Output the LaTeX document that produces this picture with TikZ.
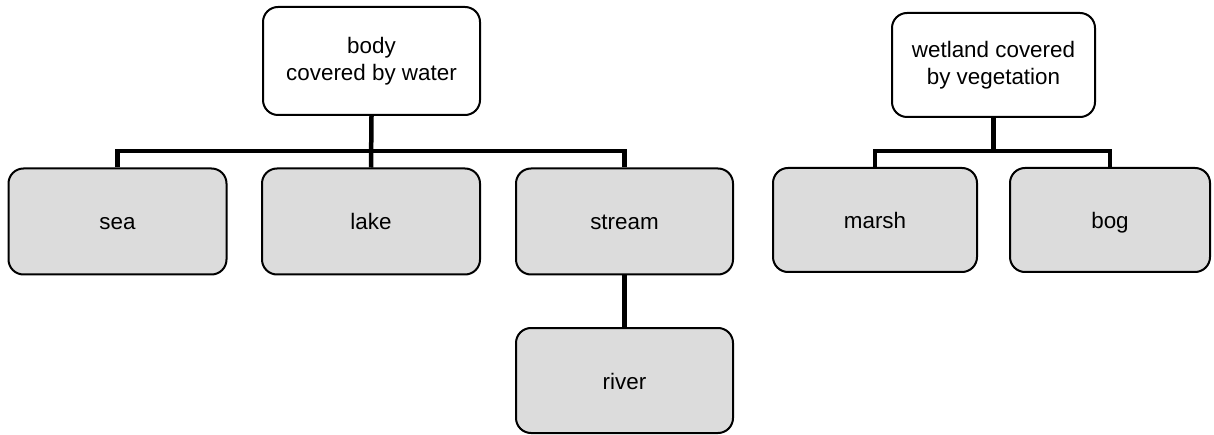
\documentclass[tikz,border=0pt]{standalone}
\usepackage{fontspec}
\setmainfont{Liberation Sans}
\begin{document}
\begin{tikzpicture}[x=1pt,y=-1pt,
  box/.style={draw=black, line width=2pt, rounded corners=15pt, align=center,
    inner sep=0pt, font=\fontsize{22.4}{27.5}\selectfont},
  topbox/.style={box, fill=white},
  leafbox/.style={box, fill=leafgray, text height=20pt, text depth=3pt},
  conn/.style={draw=black, line width=4.5pt}
]
\definecolor{leafgray}{RGB}{220,220,220}
\useasboundingbox (0,0) rectangle (1214,435);

% first tree: bodies of water
\node[topbox, minimum width=217pt, minimum height=108pt] (body) at (371.5,61) {body\\covered by water};
\node[leafbox, minimum width=218pt, minimum height=106pt] (sea) at (117.5,221.5) {sea};
\node[leafbox, minimum width=218pt, minimum height=106pt] (lake) at (371,221.5) {lake};
\node[leafbox, minimum width=217pt, minimum height=106pt] (stream) at (624.5,221.5) {stream};
\node[leafbox, minimum width=217pt, minimum height=105pt] (river) at (624.5,380.5) {river};

\draw[conn] (body.south) -- (lake.north);
\draw[conn] (sea.north) -- ++(0,-16.5) -| (stream.north);
\draw[conn] (stream.south) -- (river.north);

% second tree: wetlands
\node[topbox, minimum width=203pt, minimum height=104pt] (wet) at (993.5,65) {wetland covered\\by vegetation};
\node[leafbox, minimum width=204pt, minimum height=104pt] (marsh) at (875,220) {marsh};
\node[leafbox, minimum width=200pt, minimum height=104pt] (bog) at (1110,220) {bog};
\coordinate (barR) at (993.5,152);

\draw[conn] (wet.south) -- (barR);
\draw[conn] (marsh.north) -- ++(0,-16) -| (bog.north);
\end{tikzpicture}
\end{document}
